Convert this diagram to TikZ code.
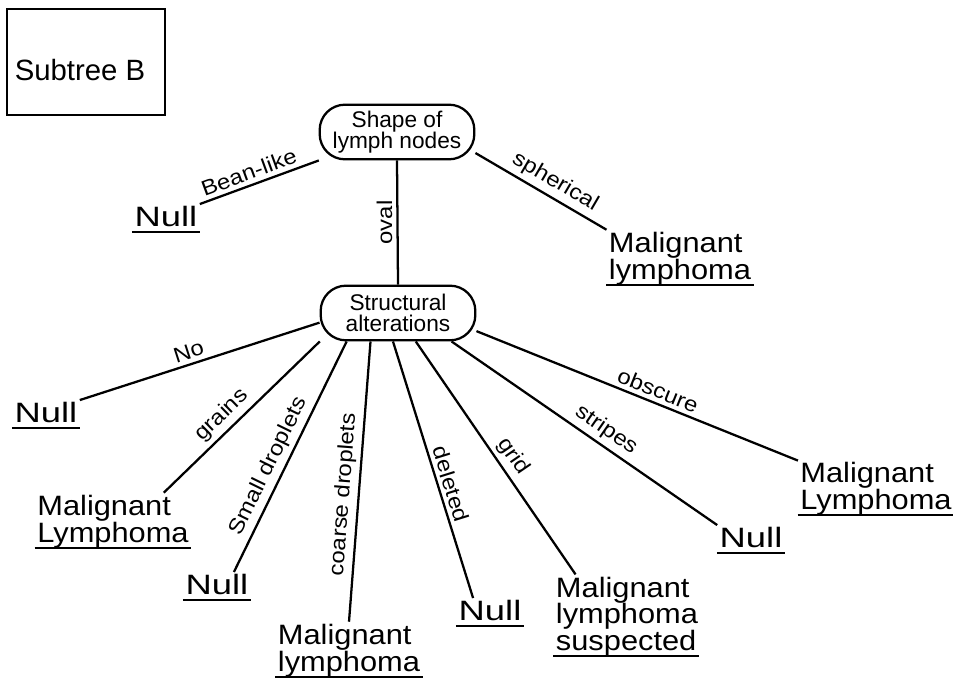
\documentclass[tikz,border=0pt]{standalone}
\usepackage{fontspec}
\setmainfont{Liberation Sans}
\newfontfamily\leaffont[FakeStretch=1.1]{Liberation Sans}
\newfontfamily\labtxtfont[FakeStretch=1.12]{Liberation Sans}
\newfontfamily\nulltxtfont[FakeStretch=1.3]{Liberation Sans}
\usetikzlibrary{calc}
\newsavebox\myulbox
\newcommand\myul[1]{\sbox\myulbox{#1}\leavevmode\rlap{\hspace{-2pt}\rule[-5pt]{\dimexpr\wd\myulbox+4pt\relax}{1.5pt}}\usebox\myulbox}
\begin{document}
\begin{tikzpicture}[x=0.75pt,y=-0.75pt, line width=1.7pt,
  dec/.style={draw, rounded corners=19pt, minimum width=116pt, minimum height=41pt, align=center, font=\fontsize{17}{16}\selectfont, inner sep=2pt},
  leaf/.style={align=left, font=\leaffont\fontsize{21}{20}\selectfont, inner sep=1pt},
  nul/.style={font=\nulltxtfont\fontsize{21}{21}\selectfont, inner sep=1pt},
  lab/.style={font=\labtxtfont\fontsize{16}{16}\selectfont, inner sep=3pt},
  titlebox/.style={draw, minimum width=118pt, minimum height=79pt},
  titletext/.style={font=\fontsize{22}{22}\selectfont, inner sep=0pt}]
\useasboundingbox (0,0) rectangle (953,685);

\node[titlebox] (tt) at (86,62) {};
\node[titletext] (ttl) at (80,70) {Subtree B};

\node[dec] (sh) at (397,132) {Shape of\\lymph nodes};
\node[dec] (st) at (398,313) {Structural\\alterations};

\node[nul] (n1) at (166,220) {\myul{Null}};
\node[leaf] (m1) at (680,259) {Malignant\\\myul{lymphoma}};

\node[nul] (n2) at (46,416) {\myul{Null}};
\node[leaf] (m2) at (113,522) {Malignant\\\myul{Lymphoma}};
\node[nul] (n3) at (217,588) {\myul{Null}};
\node[leaf] (m3) at (349,651) {Malignant\\\myul{lymphoma}};
\node[nul] (n4) at (490,614) {\myul{Null}};
\node[leaf] (m4) at (627,617) {Malignant\\lymphoma\\\myul{suspected}};
\node[nul] (n5) at (751,541) {\myul{Null}};
\node[leaf] (m5) at (876,489) {Malignant\\\myul{Lymphoma}};

\draw (sh.200) -- node[lab, pos=0.55, above, sloped] {Bean-like} (n1.north east);
\draw (sh.-15) -- node[lab, pos=0.55, above, sloped] {spherical} (m1.north west);
\draw (sh.south) -- node[lab, midway, rotate=90, above] {oval} (st.north);

\draw (st.187) -- node[lab, pos=0.53, above, sloped] {No} (n2.north east);
\draw (st.200) -- node[lab, pos=0.56, above, sloped] {grains} ($(m2.north)!0.65!(m2.north east)$);
\draw (st.209) -- node[lab, pos=0.57, above, sloped] {Small droplets} ($(n3.north)!0.5!(n3.north east)$);
\draw (st.226) -- node[lab, pos=0.55, above, sloped] {coarse droplets} (m3.north);
\draw (st.260) -- node[lab, pos=0.57, above, sloped] {deleted} ($(n4.north)!0.5!(n4.north west)$);
\draw (st.-58) -- node[lab, pos=0.53, above, sloped] {grid} ($(m4.north)!0.7!(m4.north west)$);
\draw (st.-28) -- node[lab, pos=0.55, above, sloped] {stripes} (n5.north west);
\draw (st.-13) -- node[lab, pos=0.55, above, sloped] {obscure} (m5.160);
\end{tikzpicture}
\end{document}
